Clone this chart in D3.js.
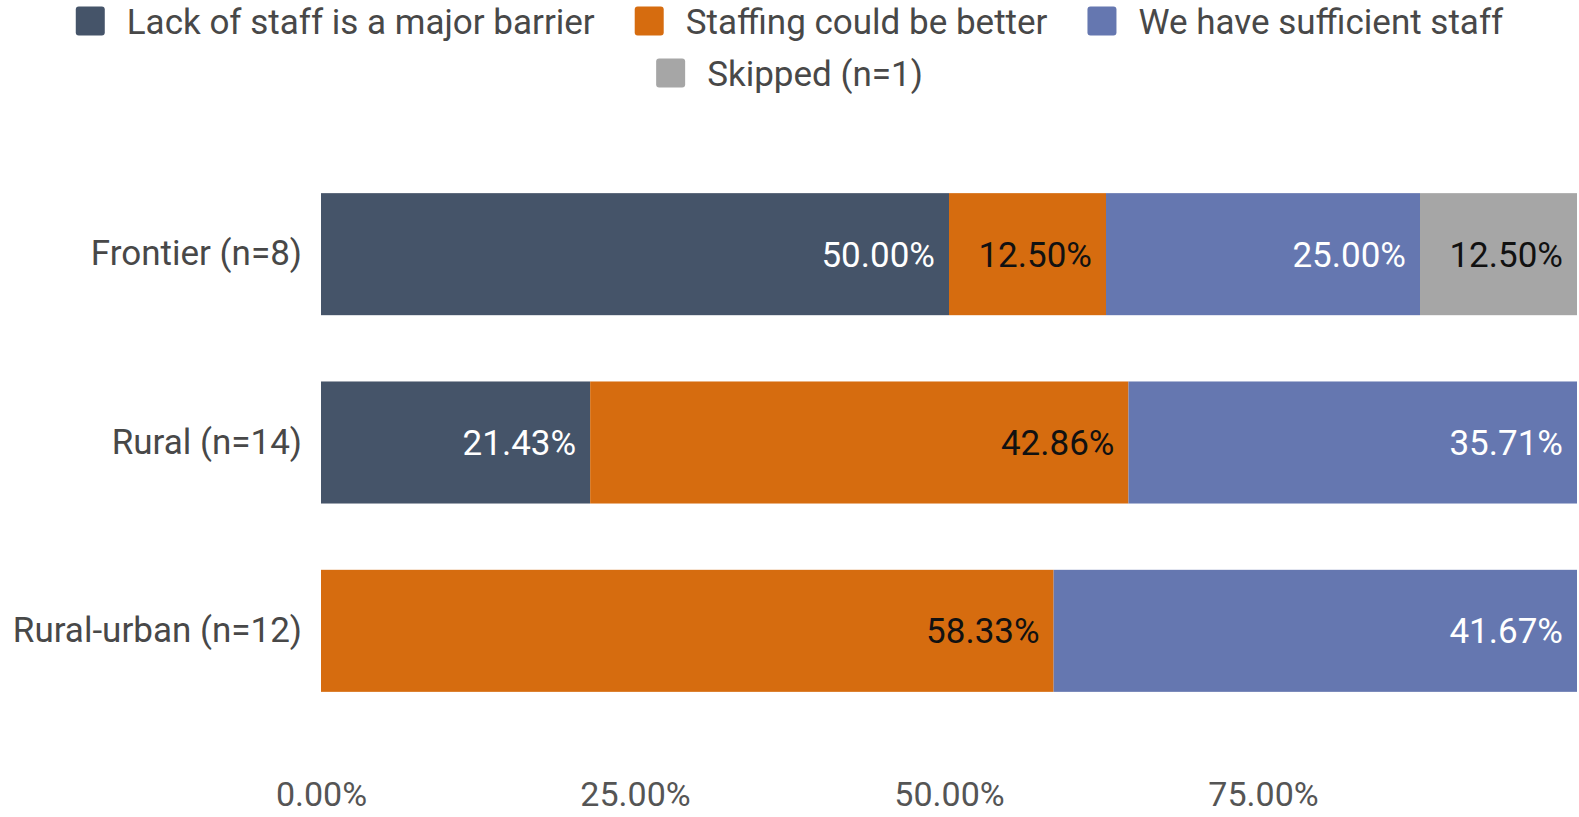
<!DOCTYPE html>
<html>
<head>
<meta charset="utf-8">
<script src="https://cdn.jsdelivr.net/npm/d3@7"></script>
<style>
  html, body { margin: 0; padding: 0; background: #ffffff; }
  svg { display: block; font-family: Roboto, "Noto Sans", sans-serif; }
</style>
</head>
<body>
<svg id="chart" width="1579" height="817"></svg>
<script>
// Staffing responses by community type (shares of respondents)
const categories = ["Frontier (n=8)", "Rural (n=14)", "Rural-urban (n=12)"];
const seriesNames = ["Lack of staff is a major barrier", "Staffing could be better", "We have sufficient staff", "Skipped (n=1)"];
const lackOfStaff   = [0.5000, 0.2143, 0.0000];
const couldBeBetter = [0.1250, 0.4286, 0.5833];
const sufficient    = [0.2500, 0.3571, 0.4167];
const skipped       = [0.1250, 0.0000, 0.0000];
const tickValues = [0, 0.25, 0.50, 0.75];

const colors = ["#455469", "#d66c0f", "#6577b0", "#a6a6a6"];
const labelColors = ["#ffffff", "#111111", "#ffffff", "#111111"];

const W = 1579, H = 817;
const svg = d3.select("#chart");

const rows = categories.map((c, i) => ({
  category: c,
  s0: lackOfStaff[i], s1: couldBeBetter[i], s2: sufficient[i], s3: skipped[i]
}));
const keys = ["s0", "s1", "s2", "s3"];
const stacked = d3.stack().keys(keys)(rows);

const x = d3.scaleLinear().domain([0, 1]).range([321, 1577]);
const y = d3.scaleBand().domain(categories).range([160, 725]).paddingInner(0.352).paddingOuter(0.176);

// bars
const layers = svg.append("g").selectAll("g.layer")
  .data(stacked).join("g")
  .attr("class", "layer")
  .attr("fill", (d, i) => colors[i]);

layers.selectAll("rect")
  .data(d => d.filter(s => s[1] - s[0] > 0))
  .join("rect")
  .attr("x", s => x(s[0]))
  .attr("y", s => y(s.data.category))
  .attr("width", s => x(s[1]) - x(s[0]))
  .attr("height", y.bandwidth());

// value labels at the right end of each segment
layers.each(function(layer, i) {
  d3.select(this).selectAll("text")
    .data(layer.filter(s => s[1] - s[0] > 0))
    .join("text")
    .attr("x", s => x(s[1]) - 14)
    .attr("y", s => y(s.data.category) + y.bandwidth() / 2)
    .attr("dy", "0.36em")
    .attr("text-anchor", "end")
    .attr("fill", labelColors[i])
    .style("font-size", "35px")
    .text(s => d3.format(".2%")(s[1] - s[0]));
});

// category axis
const yAxis = svg.append("g")
  .attr("transform", `translate(${x(0) - 19},0)`)
  .call(d3.axisLeft(y).tickSize(0).tickPadding(0));
yAxis.select(".domain").remove();
yAxis.selectAll("text")
  .attr("fill", "#484848")
  .style("font-size", "35px")
  .style("font-family", "Roboto, sans-serif");

// value axis
const xAxis = svg.append("g")
  .attr("transform", "translate(0,782)")
  .call(d3.axisBottom(x).tickValues(tickValues).tickFormat(d3.format(".2%")).tickSize(0).tickPadding(0));
xAxis.select(".domain").remove();
xAxis.selectAll("text")
  .attr("fill", "#555555")
  .style("font-size", "34px")
  .style("font-family", "Roboto, sans-serif");

// legend, two centred rows
const legendRows = [[0, 1, 2], [3]];
const legendY = [21, 73];
const sw = 29, swGap = 22, itemGap = 40;
const legend = svg.append("g");
legendRows.forEach((idxs, r) => {
  const g = legend.append("g");
  let cx = 0;
  idxs.forEach(i => {
    g.append("rect")
      .attr("x", cx).attr("y", legendY[r] - sw / 2)
      .attr("width", sw).attr("height", sw)
      .attr("rx", 3)
      .attr("fill", colors[i]);
    const t = g.append("text")
      .attr("x", cx + sw + swGap)
      .attr("y", legendY[r])
      .attr("dy", "0.36em")
      .attr("fill", "#484848")
      .style("font-size", "35px")
      .text(seriesNames[i]);
    cx += sw + swGap + t.node().getComputedTextLength() + itemGap;
  });
  const total = cx - itemGap;
  g.attr("transform", `translate(${(W - total) / 2},0)`);
});
</script>
</body>
</html>
